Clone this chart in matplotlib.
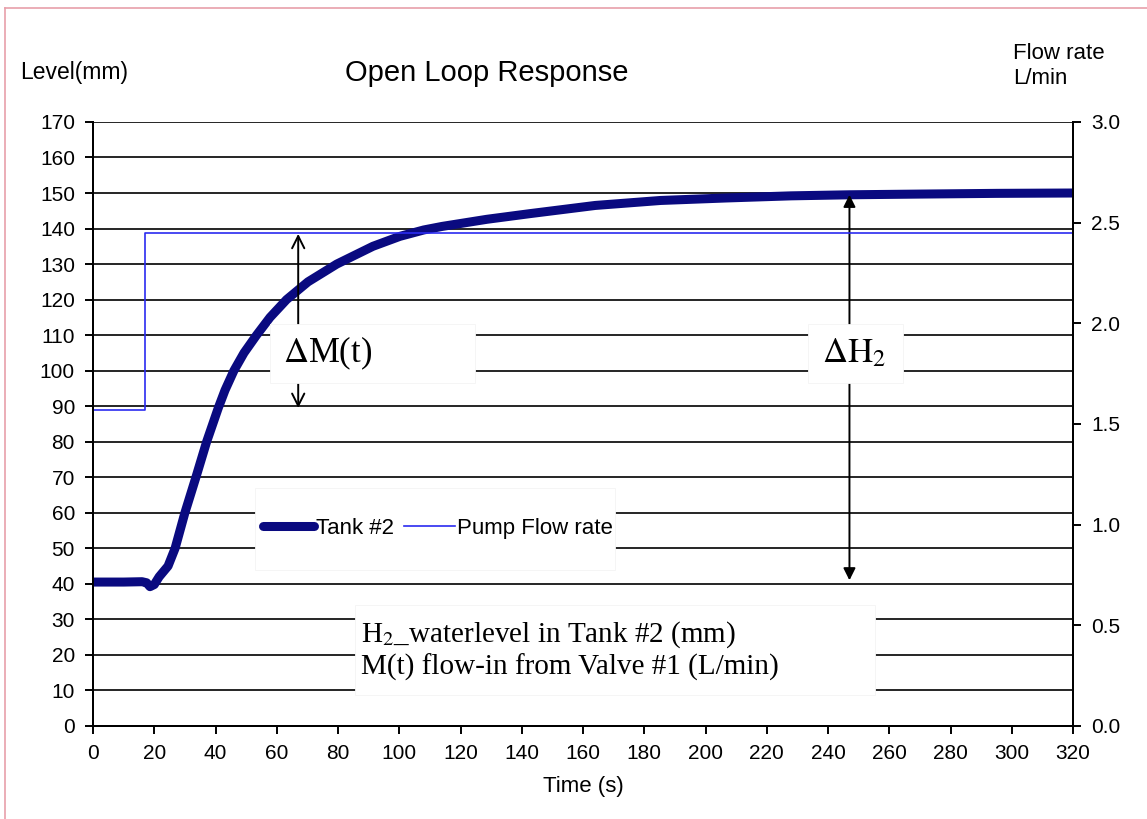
import numpy as np
import matplotlib
matplotlib.use("Agg")
from matplotlib import pyplot as plt
from matplotlib.patches import Rectangle
from matplotlib.lines import Line2D

plt.rcParams['font.family'] = ['Liberation Sans', 'DejaVu Sans']

# tank #2 level (mm)
tank_t = [0, 10, 16, 17.5, 18.6, 20, 21.6, 24.5, 26.8, 30, 33.6, 37.1, 40.9, 43.1,
          46, 49.3, 53.4, 57.8, 63.2, 70.2, 79.6, 91.4, 100.2, 108, 114, 128.6,
          142.7, 164, 185.3, 206.6, 227.9, 247, 270, 295, 320]
tank_h = [40.5, 40.5, 40.6, 40.3, 39.2, 39.8, 42, 45, 50, 60, 70, 80, 89.5, 94.5,
          100, 105, 110, 115, 120, 125, 130, 135, 137.8, 139.6, 140.6, 142.6,
          144.2, 146.5, 147.9, 148.6, 149.2, 149.5, 149.7, 149.9, 150]

# pump flow rate (L/min), step
pump_t = [0, 17, 17, 320]
pump_q = [1.57, 1.57, 2.45, 2.45]

level_ticks = list(range(0, 171, 10))
flow_ticks = [0.0, 0.5, 1.0, 1.5, 2.0, 2.5, 3.0]
time_ticks = list(range(0, 321, 20))

fig = plt.figure(figsize=(11.47, 8.19), dpi=100)
ax = fig.add_axes([0.0811, 0.1136, 0.8544, 0.7375])
ax2 = ax.twinx()

ax.set_xlim(0, 320)
ax.set_ylim(0, 170)
ax2.set_ylim(0, 3.0)
ax.set_xticks(time_ticks)
ax.set_yticks(level_ticks)
ax2.set_yticks(flow_ticks)
ax2.set_yticklabels(['%.1f' % v for v in flow_ticks])

ax.yaxis.grid(True, color='black', lw=1.2)
ax.set_axisbelow(True)
for a in (ax, ax2):
    a.spines['top'].set_visible(False)
    for s in ('left', 'right', 'bottom'):
        a.spines[s].set_linewidth(1.4)
    a.tick_params(direction='out', length=6, width=1.4, labelsize=15, pad=7)

l1, = ax.plot(tank_t, tank_h, color='#0a0a80', lw=6.5, solid_capstyle='round',
              solid_joinstyle='round', zorder=2, label='Tank #2')
l2, = ax2.plot(pump_t, pump_q, color='#2b2bf0', lw=1.2, label='Pump Flow rate')

# white boxes that hide the grid
boxes = [(57.8, 96.6, 66.9, 16.4), (233.5, 96.6, 31, 16.4),
         (52.9, 44, 117.5, 23), (85.5, 8.7, 169.8, 25.4)]
for x0, y0, w, h in boxes:
    ax.add_patch(Rectangle((x0, y0), w, h, facecolor='white', edgecolor='#f4f4f4',
                           lw=0.6, zorder=3))

ax.annotate('', xy=(67, 138.5), xytext=(67, 89.5), zorder=2.5,
            arrowprops=dict(arrowstyle='<->', color='black', lw=1.4,
                            mutation_scale=22, shrinkA=0, shrinkB=0))
ax.annotate('', xy=(247, 149.5), xytext=(247, 41), zorder=2.5,
            arrowprops=dict(arrowstyle='<|-|>', color='black', lw=1.4,
                            mutation_scale=18, shrinkA=0, shrinkB=0))

serif = ['Liberation Serif', 'DejaVu Serif']
ax.text(62, 104.8, r'$\Delta$M(t)', family=serif, fontsize=25, va='center',
        ha='left', zorder=4, math_fontfamily='stix')
ax.text(248.5, 104.8, r'$\Delta\mathrm{H}_2$', family=serif, fontsize=25, va='center',
        ha='center', zorder=4, math_fontfamily='stix')
ax.text(87.5, 21.3, 'H$_2$_waterlevel in Tank #2 (mm)\nM(t) flow-in from Valve #1 (L/min)',
        family=serif, fontsize=21, va='center', ha='left', zorder=4,
        linespacing=1.18, math_fontfamily='stix')

leg = ax2.legend(handles=[l1, l2], loc='center', bbox_to_anchor=(0.352, 0.327),
                 ncol=2, frameon=False, fontsize=16, handlelength=2.3,
                 handletextpad=0.1, columnspacing=0.45)

ax.set_xlabel('Time (s)', fontsize=16, labelpad=9)
fig.text(0.4246, 0.911, 'Open Loop Response', fontsize=21, ha='center', va='center')
fig.text(0.0174, 0.911, 'Level(mm)', fontsize=16.5, ha='left', va='center')
fig.text(0.883, 0.947, 'Flow rate\nL/min', fontsize=16, ha='left', va='top',
         linespacing=1.2)

# pink frame edges
fig.add_artist(Line2D([0.0045, 0.0045], [0, 0.99], color='#e8a0aa', lw=1.2))
fig.add_artist(Line2D([0.0045, 1], [0.99, 0.99], color='#e8a0aa', lw=1.2))

fig.savefig('out.png', dpi=100)
